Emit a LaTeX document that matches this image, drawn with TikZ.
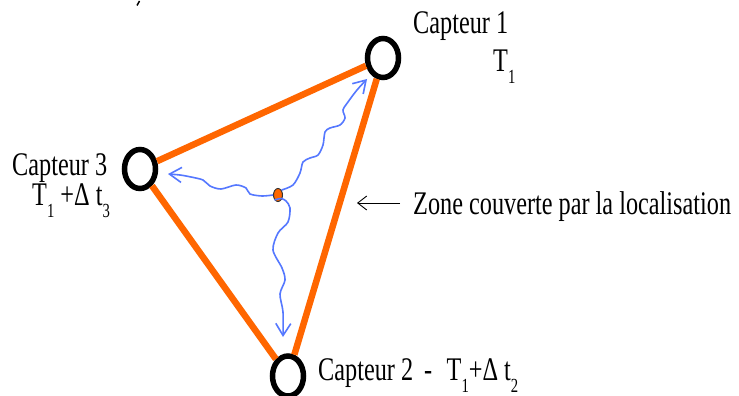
\documentclass[tikz,border=0pt]{standalone}
\usepackage{fontspec}
\setmainfont{Liberation Serif}
\usetikzlibrary{arrows.meta,shapes.geometric}
\definecolor{orangeL}{RGB}{255,102,0}
\definecolor{blueL}{RGB}{85,120,255}
\newcommand\mysub[1]{\raisebox{-12pt}{\fontsize{20}{20}\selectfont #1}}
\newcommand\lbl[1]{\scalebox{0.735}[1]{\fontsize{33}{36}\selectfont #1}}
\begin{document}
\begin{tikzpicture}[x=1pt,y=-1pt,
  sensor/.style={ellipse,draw=black,line width=5.5pt,minimum width=31pt,minimum height=39pt,inner sep=0pt},
  edgeline/.style={draw=orangeL,line width=6.5pt},
  wave/.style={draw=blueL,line width=1.6pt,-{Straight Barb[length=12pt,width=15pt]}},
  lab/.style={anchor=base west,inner sep=0pt,text=black}]
\useasboundingbox (0,0) rectangle (739,396);
\fill[white] (0,0) rectangle (739,396);

% sensors
\node[sensor] (c1) at (383,58) {};
\node[sensor] (c3) at (140,169) {};
\node[sensor,minimum height=40pt] (c2) at (288,376) {};

% triangle
\draw[edgeline] (c3) -- (c1);
\draw[edgeline] (c1) -- (c2);
\draw[edgeline] (c3) -- (c2);

% source point
\node[ellipse,fill=orangeL,draw=black!80,line width=1pt,minimum width=9pt,minimum height=13pt,inner sep=0pt] (dot) at (278,195) {};

% arrow end points
\coordinate (t1) at (367,79);
\coordinate (t2) at (283,337);
\coordinate (t3) at (168,174);

% wavy propagation paths
\draw[wave] plot[smooth] coordinates {(dot.west) (262,196) (250,194) (246,188) (236,185) (221,189) (210,186) (203,180) (191,177) (180,175) (t3)};
\draw[wave] plot[smooth] coordinates {(dot.north east) (293,185) (300,173) (303,162) (310,158) (318,155) (323,145) (325,132) (330,128) (340,125) (345,118) (343,110) (348,102) (357,90) (t1)};
\draw[wave] plot[smooth] coordinates {(dot.south west) (281,198.5) (286,201) (290,208) (288,222) (278,233) (273,250) (282,268) (285,280) (280,294) (283,312) (t2)};

% zone pointer
\coordinate (za) at (400,203);
\coordinate (zb) at (357,203);
\draw[line width=0.9pt,-{Straight Barb[length=9pt,width=14pt]}] (za) -- (zb);

% stray tick
\draw[line width=1.5pt] (139.5,1) -- (137,5.5);

% labels
\node[lab] (l1) at (413,34) {\lbl{Capteur 1}};
\node[lab] (l1t) at (493,72) {\lbl{T\mysub{1}}};
\node[lab] (l3) at (12,175) {\lbl{Capteur 3}};
\node[lab] (l3t) at (32,205) {\lbl{T\mysub{1} +Δ t\mysub{3}}};
\node[lab] (l2) at (318,380) {\lbl{Capteur 2\hspace{0.45em}-\hspace{0.35em} T\mysub{1}+Δ t\mysub{2}}};
\node[lab] (lz) at (413,214) {\lbl{Zone couverte par la localisation}};
\end{tikzpicture}
\end{document}
